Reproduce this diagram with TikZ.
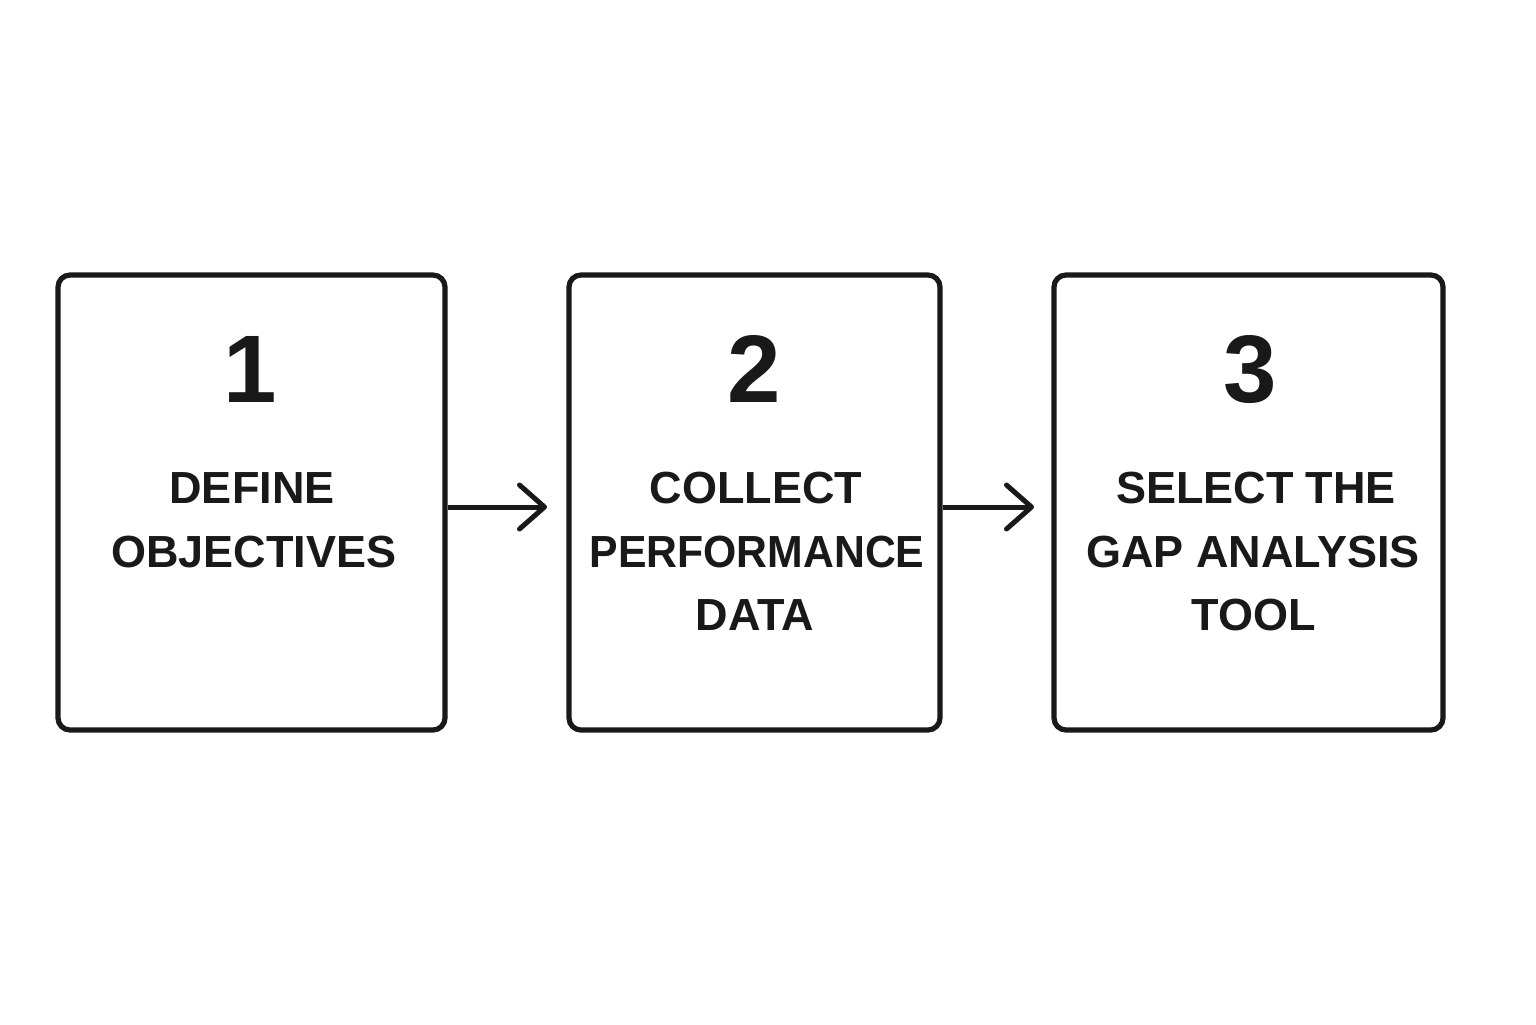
\documentclass[tikz,border=0pt]{standalone}
\usepackage{fontspec}
\setmainfont{Liberation Sans}
\usetikzlibrary{arrows.meta}
\begin{document}
\begin{tikzpicture}[x=0.5pt,y=-0.5pt,
  stepbox/.style={draw=black!90,line width=2.6pt,rounded corners=6pt,inner sep=0pt},
  num/.style={font=\fontsize{48}{48}\selectfont\bfseries,text=black!90,anchor=base,inner sep=0pt},
  lbl/.style={font=\fontsize{22.5}{22.5}\selectfont\bfseries,text=black!90,anchor=base,inner sep=0pt},
  arr/.style={draw=black!90,line width=2.5pt,-{Straight Barb[length=12.5pt,width=22pt,line cap=round,line join=round]}}]
\useasboundingbox[fill=white] (0,0) rectangle (1536,1024);
\node[stepbox,minimum width=193.5pt,minimum height=227.5pt] (b1) at (251.5,502.5) {};
\node[stepbox,minimum width=185.5pt,minimum height=227.5pt] (b2) at (754.5,502.5) {};
\node[stepbox,minimum width=194.5pt,minimum height=227.5pt] (b3) at (1248.5,502.5) {};
\node[num] (n1) at (250,402) {1};
\node[num] (n2) at (754,402) {2};
\node[num] (n3) at (1250,402) {3};
\node[lbl] (t1a) at (252,503) {DEFINE};
\node[lbl] (t1b) at (254,567) {OBJECTIVES};
\node[lbl] (t2a) at (756,503) {COLLECT};
\node[lbl,xscale=0.95] (t2b) at (757,567) {PERFORMANCE};
\node[lbl] (t2c) at (755,630) {DATA};
\node[lbl] (t3a) at (1256,503) {SELECT THE};
\node[lbl] (t3b) at (1253,567) {GAP ANALYSIS};
\node[lbl] (t3c) at (1254,630) {TOOL};
\coordinate (e1) at (547,507);
\coordinate (e2) at (1034,507);
\draw[arr] (b1.east |- e1) -- (e1);
\draw[arr] (b2.east |- e2) -- (e2);
\end{tikzpicture}
\end{document}
